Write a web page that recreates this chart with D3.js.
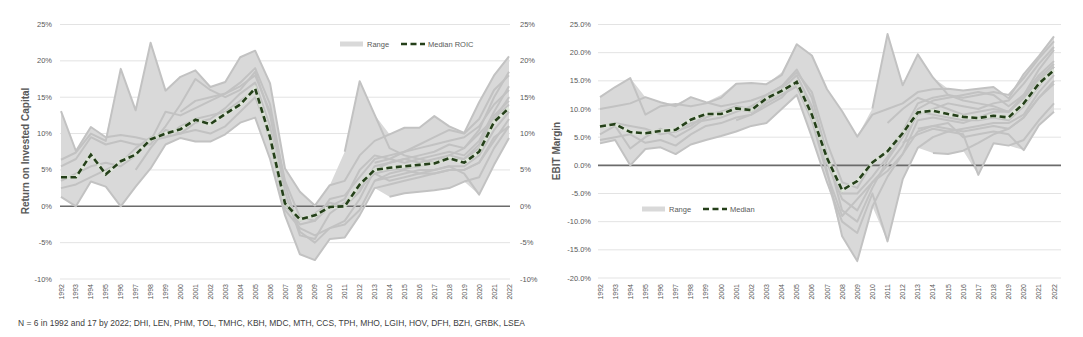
<!DOCTYPE html>
<html>
<head>
<meta charset="utf-8">
<script src="https://cdn.jsdelivr.net/npm/d3@7"></script>
<style>
  body { margin: 0; background: #fff; }
  svg { display: block; }
  text { font-family: "Liberation Sans", Arial, sans-serif; }
</style>
</head>
<body>
<svg id="chart" width="1083" height="337"></svg>
<script>
// ---- data (% values) ----
var years = [1992,1993,1994,1995,1996,1997,1998,1999,2000,2001,2002,2003,2004,2005,2006,
             2007,2008,2009,2010,2011,2012,2013,2014,2015,2016,2017,2018,2019,2020,2021,2022];

var roicMedian = [4.0,4.0,7.1,4.4,6.2,7.1,9.2,10.0,10.6,11.9,11.3,12.7,14.0,16.2,9.5,
                  0.4,-1.8,-1.25,-0.1,0.0,3.0,5.0,5.3,5.5,5.7,5.9,6.6,6.0,7.5,11.6,13.5];
var roicMax = [13.1,7.6,10.9,9.5,18.9,13.2,22.5,15.9,17.8,18.7,16.4,17.1,20.5,21.4,16.9,
               5.2,2.0,0.1,2.9,7.5,17.2,12.6,9.9,10.8,10.8,12.4,11.0,10.1,14.3,18.0,20.6];
var roicMin = [1.3,0.0,3.4,2.7,0.0,2.7,5.2,8.5,9.4,8.9,8.9,9.9,11.5,12.2,6.5,
               -1.25,-6.6,-7.4,-4.5,-4.3,-1.25,2.5,1.3,1.8,2.0,2.2,2.5,3.4,1.6,5.7,9.4];

// company lines: [first year, values...]
var roicCompanies = [
  [1992, 13.1,7.6,10.9,9.5,9.8,9.5,9.0,13.0,12.5,13.5,14.5,15.5,17.0,19.0,14.0,3.0,-3.5,-5.0,-3.0,-2.0,1.0,5.0,6.0,6.5,7.0,7.5,8.5,8.0,10.5,15.0,18.5],
  [1992, 6.4,7.4,10.0,9.0,18.9,13.2,22.5,15.9,17.8,18.7,16.4,17.1,20.5,21.4,16.9,5.2,2.0,0.1,2.9,3.5,7.0,9.0,9.9,10.8,10.8,12.4,11.0,10.1,14.3,18.0,20.6],
  [1992, 1.3,0.0,3.4,2.7,0.0,2.7,5.2,8.5,9.4,8.9,8.9,9.9,11.5,12.2,6.5,-1.25,-6.6,-7.4,-4.5,-4.3,-1.25,2.5,3.0,3.5,4.0,4.5,5.0,5.0,6.0,9.0,12.0],
  [1992, 2.5,3.0,4.0,5.0,6.0,8.0,9.5,9.5,10.0,10.5,10.0,11.0,13.0,15.0,10.0,1.0,-2.5,-2.0,1.0,1.5,4.0,6.5,7.0,7.5,8.0,8.5,9.0,9.5,11.0,14.0,16.0],
  [1992, 5.5,6.5,9.5,8.5,9.0,8.5,8.5,11.0,14.0,17.5,16.0,15.0,16.0,18.5,12.5,2.0,-4.0,-4.5,-1.0,0.5,2.5,4.5,5.0,5.2,5.5,6.0,6.5,6.5,8.0,12.0,15.0],
  [1992, 3.5,4.5,5.5,6.0,5.5,7.0,9.0,9.5,11.0,12.0,12.5,13.0,14.5,16.0,9.0,-0.5,-3.0,-4.0,-3.0,-2.5,-0.5,3.5,4.5,5.0,4.5,5.0,5.5,5.5,7.0,10.5,13.0],
  [1997, 5.0,8.0,10.5,10.0,11.5,12.0,13.5,15.5,17.0,11.0,0.0,-2.0,-1.0,0.5,0.0,2.0,5.5,6.0,6.5,6.0,6.5,7.0,6.5,8.5,12.5,14.5],
  [2000, 13.0,14.5,15.0,15.5,16.5,18.0,13.0,3.5,-1.5,-2.0,0.0,1.0,5.0,7.0,6.5,6.0,6.5,7.0,7.5,7.0,9.0,13.0,16.5],
  [2011, 7.5,17.2,12.6,8.0,7.0,6.5,6.0,7.0,8.0,10.0,12.0,14.0],
  [2012, 3.0,4.5,3.5,4.0,4.5,4.5,5.0,5.0,6.0,9.5,11.0],
  [2013, 6.0,6.5,7.5,8.5,9.5,10.5,10.0,12.0,16.0,18.0],
  [2013, 3.5,4.0,4.5,5.0,5.0,5.5,4.5,1.6,5.7,9.4],
  [2014, 1.3,1.8,2.0,2.2,2.5,3.4,4.0,8.0,11.0]
];

var ebitMedian = [6.9,7.3,5.9,5.7,6.1,6.3,8.1,9.1,9.1,10.1,9.8,11.9,13.2,14.8,9.0,
                  1.3,-4.4,-2.8,0.5,2.5,5.7,9.4,9.7,9.1,8.6,8.4,8.8,8.5,11.0,14.5,16.9];
var ebitMax = [12.1,13.9,15.5,12.1,11.2,10.9,12.1,11.2,12.5,14.6,14.6,14.4,16.5,21.5,19.5,
               13.5,9.6,5.1,10.1,23.3,14.2,19.7,15.6,13.6,13.3,13.6,13.9,11.9,16.2,19.4,22.9];
var ebitMin = [3.9,4.5,0.0,2.9,3.2,2.0,3.7,4.5,5.2,6.0,7.0,7.5,10.0,12.5,5.0,
               -3.0,-12.6,-17.0,-7.3,-13.5,-2.5,3.1,2.2,2.0,2.6,-1.7,3.9,3.5,2.7,7.1,9.5];

var ebitCompanies = [
  [1992, 12.1,13.9,15.5,9.0,10.5,10.9,10.5,11.0,12.0,14.5,14.6,14.4,16.0,21.5,19.5,13.5,9.6,5.1,9.0,10.0,11.0,13.0,13.5,13.6,13.3,13.6,13.9,11.9,16.2,19.4,22.9],
  [1992, 10.0,10.5,11.0,12.1,11.2,10.5,12.1,11.2,10.5,11.0,11.5,12.5,14.0,17.0,12.0,2.0,-8.0,-10.0,-4.0,1.0,5.0,9.0,10.0,11.0,10.5,10.0,11.0,11.5,14.5,18.0,21.0],
  [1992, 7.0,7.5,7.0,6.5,5.5,6.0,7.5,8.0,8.5,9.5,10.5,12.0,13.5,16.0,10.5,1.0,-5.0,-5.0,-2.0,1.5,5.5,10.0,11.5,12.0,12.5,13.0,12.5,10.5,12.5,17.0,20.5],
  [1992, 5.5,7.0,3.0,5.0,6.5,5.0,6.5,8.5,9.5,10.0,9.5,11.5,13.0,14.5,9.0,-1.0,-12.6,-17.0,-7.3,-2.0,2.0,8.0,8.5,8.0,7.5,8.5,9.5,9.5,12.0,15.5,18.0],
  [1992, 3.9,4.5,0.0,2.9,3.2,2.0,3.7,4.5,5.2,6.0,7.0,7.5,10.0,12.5,5.0,-3.0,-10.0,-12.0,-5.0,-13.5,-2.5,3.1,5.0,6.0,6.5,7.0,7.5,7.5,9.0,13.0,16.0],
  [1992, 4.5,5.0,5.5,4.0,4.5,3.5,5.5,7.0,7.5,8.5,9.0,10.5,12.0,15.0,10.0,0.5,-6.0,-8.0,-3.0,0.0,3.5,9.5,9.0,8.5,8.0,8.0,8.5,8.0,10.5,14.0,17.5],
  [1997, 6.0,7.0,9.0,9.5,10.5,10.0,12.5,14.0,16.5,13.0,4.0,-3.0,-4.0,0.5,2.5,6.0,11.0,12.0,12.5,12.0,12.5,13.0,12.5,15.5,19.0,22.0],
  [2001, 8.0,9.0,11.0,12.5,14.0,8.0,-1.5,-9.0,-6.0,-3.0,-1.0,2.0,6.0,7.0,6.5,6.0,6.5,7.0,6.5,8.5,12.0,14.5],
  [2010, 10.1,23.3,14.2,19.7,15.6,12.5,11.5,11.0,10.5,9.5,12.0,15.0,17.5],
  [2011, 7.5,10.0,12.0,11.0,10.0,9.0,9.5,10.0,9.5,12.5,16.0,18.5],
  [2012, 4.0,5.5,6.5,6.0,5.5,-1.7,3.9,3.5,4.5,8.0,11.0],
  [2013, 6.5,7.0,7.5,5.0,5.5,6.0,5.5,2.7,7.1,9.5],
  [2014, 2.2,2.0,2.6,4.0,5.5,6.5,8.5,12.0,15.0]
];

var roicTicks = [-10,-5,0,5,10,15,20,25];
var ebitTicks = [-20,-15,-10,-5,0,5,10,15,20,25];
var footnote = "N = 6 in 1992 and 17 by 2022; DHI, LEN, PHM, TOL, TMHC, KBH, MDC, MTH, CCS, TPH, MHO, LGIH, HOV, DFH, BZH, GRBK, LSEA";

// ---- drawing ----
var svg = d3.select("#chart");

function toSeries(row) {
  var start = row[0], vals = row.slice(1);
  return years.map(function(y) {
    var i = y - start;
    return (i >= 0 && i < vals.length) ? vals[i] : null;
  });
}

function drawPanel(cfg) {
  var g = svg.append("g");
  var x = d3.scalePoint().domain(years).range(cfg.xRange);
  var y = d3.scaleLinear().domain(cfg.yDomain).range(cfg.yRange);

  // gridlines
  g.selectAll(".grid").data(cfg.ticks.filter(function(t){ return t !== 0; }))
    .enter().append("line")
    .attr("x1", cfg.gridX[0]).attr("x2", cfg.gridX[1])
    .attr("y1", function(d){ return y(d); }).attr("y2", function(d){ return y(d); })
    .attr("stroke", "#e3e3e3").attr("stroke-width", 1);

  // tick labels
  g.selectAll(".yl").data(cfg.ticks).enter().append("text")
    .attr("x", cfg.labelX).attr("y", function(d){ return y(d) + 2.5; })
    .attr("text-anchor", "end").attr("font-size", 7.5).attr("fill", "#595959")
    .text(cfg.fmt);

  if (cfg.rightLabelX) {
    g.selectAll(".yr").data(cfg.ticks).enter().append("text")
      .attr("x", cfg.rightLabelX).attr("y", function(d){ return y(d) + 2.5; })
      .attr("text-anchor", "start").attr("font-size", 7.5).attr("fill", "#595959")
      .text(cfg.fmt);
  }

  // range area
  var area = d3.area()
    .x(function(d, i){ return x(years[i]); })
    .y0(function(d, i){ return y(cfg.min[i]); })
    .y1(function(d, i){ return y(cfg.max[i]); });
  g.append("path").datum(cfg.max).attr("d", area).attr("fill", "#d9d9d9");

  // zero line
  g.append("line")
    .attr("x1", cfg.gridX[0]).attr("x2", cfg.gridX[1])
    .attr("y1", y(0)).attr("y2", y(0))
    .attr("stroke", "#6b6b6b").attr("stroke-width", 1.6);

  // company lines
  var line = d3.line()
    .defined(function(d){ return d !== null; })
    .x(function(d, i){ return x(years[i]); })
    .y(function(d){ return y(d); });
  g.selectAll(".co").data(cfg.companies.map(toSeries)).enter().append("path")
    .attr("d", line).attr("fill", "none")
    .attr("stroke", "#c2c2c2").attr("stroke-width", 2).attr("stroke-linejoin", "round");

  // median
  g.append("path").datum(cfg.median).attr("d", line).attr("fill", "none")
    .attr("stroke", "#e4f0dc").attr("stroke-width", 3.8).attr("opacity", 0.55);
  g.append("path").datum(cfg.median).attr("d", line).attr("fill", "none")
    .attr("stroke", "#25401a").attr("stroke-width", 2.6)
    .attr("stroke-dasharray", "6,3.5");

  // year labels
  g.selectAll(".xl").data(years).enter().append("text")
    .attr("transform", function(d){ return "translate(" + (x(d) + 2.5) + "," + cfg.yearY + ") rotate(-90)"; })
    .attr("text-anchor", "end").attr("font-size", 7).attr("fill", "#595959")
    .text(function(d){ return d; });

  // axis title
  g.append("text")
    .attr("transform", "translate(" + cfg.titleX + "," + cfg.titleY + ") rotate(-90)")
    .attr("text-anchor", "middle").attr("font-size", 10).attr("font-weight", "bold")
    .attr("fill", "#595959").text(cfg.title);

  // legend
  var lg = cfg.legend;
  g.append("rect").attr("x", lg.x).attr("y", lg.y - 2.5).attr("width", 23).attr("height", 5)
    .attr("fill", "#d9d9d9");
  g.append("text").attr("x", lg.x + 27).attr("y", lg.y + 3)
    .attr("font-size", 7.5).attr("fill", "#595959").text("Range");
  g.append("line").attr("x1", lg.x + 61).attr("x2", lg.x + 85)
    .attr("y1", lg.y).attr("y2", lg.y)
    .attr("stroke", "#25401a").attr("stroke-width", 2.6).attr("stroke-dasharray", "6,3.5");
  g.append("text").attr("x", lg.x + 88).attr("y", lg.y + 3)
    .attr("font-size", 7.5).attr("fill", "#595959").text(lg.label);
}

drawPanel({
  xRange: [61, 509], gridX: [60, 510],
  yDomain: [-10, 25], yRange: [279, 24.5],
  ticks: roicTicks, fmt: function(d){ return d + "%"; },
  labelX: 52, rightLabelX: 520, yearY: 284,
  min: roicMin, max: roicMax, median: roicMedian, companies: roicCompanies,
  title: "Return on Invested Capital", titleX: 29, titleY: 151,
  legend: { x: 340, y: 44, label: "Median ROIC" }
});

drawPanel({
  xRange: [600, 1054], gridX: [598, 1061],
  yDomain: [-20, 25], yRange: [278, 24.5],
  ticks: ebitTicks, fmt: function(d){ return d.toFixed(1) + "%"; },
  labelX: 591, rightLabelX: null, yearY: 284,
  min: ebitMin, max: ebitMax, median: ebitMedian, companies: ebitCompanies,
  title: "EBIT Margin", titleX: 560, titleY: 151,
  legend: { x: 642, y: 209, label: "Median" }
});

svg.append("text").attr("x", 18).attr("y", 326)
  .attr("font-size", 8.8).attr("fill", "#404040")
  .attr("textLength", 507).attr("lengthAdjust", "spacingAndGlyphs")
  .text(footnote);
</script>
</body>
</html>
